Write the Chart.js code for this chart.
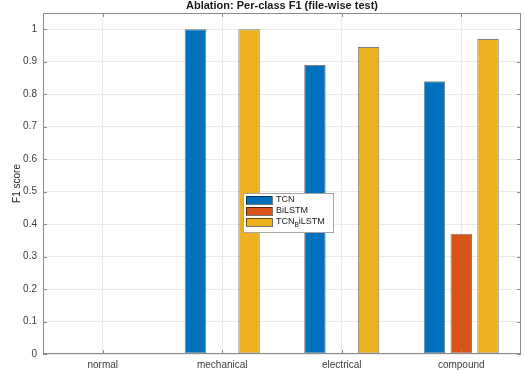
<!DOCTYPE html>
<html>
<head>
<meta charset="utf-8">
<script src="https://cdn.jsdelivr.net/npm/chart.js@4/dist/chart.umd.min.js"></script>
<style>
html,body{margin:0;padding:0;background:#fff;}
#wrap{position:relative;width:526px;height:374px;}
</style>
</head>
<body>
<div id="wrap"><canvas id="c" width="526" height="374"></canvas></div>
<script>
const categories = ['normal', 'mechanical', 'electrical', 'compound'];
const tcn = [0, 1.0, 0.89, 0.84];
const bilstm = [0, 0, 0, 0.37];
const tcnBilstm = [0, 1.0, 0.945, 0.97];
const yTickValues = [0, 0.1, 0.2, 0.3, 0.4, 0.5, 0.6, 0.7, 0.8, 0.9, 1];
const yTickLabels = ['0', '0.1', '0.2', '0.3', '0.4', '0.5', '0.6', '0.7', '0.8', '0.9', '1'];
const seriesNames = ['TCN', 'BiLSTM', 'TCN_BiLSTM'];
const titleText = 'Ablation: Per-class F1 (file-wise test)';
const yTitle = 'F1 score';

const colors = ['#0072BD', '#D95319', '#EDB120'];
const FONT = '"Liberation Sans", Arial, Helvetica, sans-serif';
const axisColor = '#8c8c8c';

const decor = {
  id: 'decor',
  afterDraw(chart) {
    const ctx = chart.ctx;
    const a = chart.chartArea;
    const ys = chart.scales.y, xs = chart.scales.x;
    ctx.save();
    // box
    ctx.strokeStyle = axisColor;
    ctx.lineWidth = 1;
    ctx.strokeRect(Math.round(a.left) + 0.5, Math.round(a.top) + 0.5, Math.round(a.right - a.left) - 1, Math.round(a.bottom - a.top) - 1);
    // ticks inside
    ctx.beginPath();
    yTickValues.forEach(v => {
      const y = Math.round(ys.getPixelForValue(v)) + 0.5;
      ctx.moveTo(a.left, y); ctx.lineTo(a.left + 4, y);
      ctx.moveTo(a.right, y); ctx.lineTo(a.right - 4, y);
    });
    categories.forEach((c, i) => {
      const x = Math.round(xs.getPixelForValue(i)) + 0.5;
      ctx.moveTo(x, a.bottom); ctx.lineTo(x, a.bottom - 4);
      ctx.moveTo(x, a.top); ctx.lineTo(x, a.top + 4);
    });
    ctx.stroke();
    // title
    ctx.fillStyle = '#1a1a1a';
    ctx.font = 'bold 11px ' + FONT;
    ctx.textAlign = 'center';
    ctx.textBaseline = 'middle';
    ctx.fillText(titleText, (a.left + a.right) / 2, 6);
    // legend
    const lx = a.left + 200, ly = a.top + 180, lw = 90, lh = 39;
    ctx.fillStyle = '#ffffff';
    ctx.fillRect(lx, ly, lw, lh);
    ctx.strokeStyle = '#a6a6a6';
    ctx.strokeRect(lx + 0.5, ly + 0.5, lw, lh);
    ctx.font = '9px ' + FONT;
    ctx.textAlign = 'left';
    ctx.textBaseline = 'middle';
    seriesNames.forEach((name, i) => {
      const cy = ly + 7 + i * 11;
      ctx.fillStyle = colors[i];
      ctx.fillRect(lx + 3, cy - 4, 26, 8);
      ctx.strokeStyle = 'rgba(0,0,0,0.55)';
      ctx.strokeRect(lx + 3.5, cy - 3.5, 26, 8);
      ctx.fillStyle = '#1a1a1a';
      const tx = lx + 33;
      const parts = name.split('_');
      if (parts.length > 1) {
        ctx.font = '9px ' + FONT;
        ctx.fillText(parts[0], tx, cy);
        let w = ctx.measureText(parts[0]).width;
        ctx.font = '6.5px ' + FONT;
        const sub = parts[1].charAt(0);
        ctx.fillText(sub, tx + w, cy + 3);
        w += ctx.measureText(sub).width;
        ctx.font = '9px ' + FONT;
        ctx.fillText(parts[1].slice(1), tx + w, cy);
      } else {
        ctx.fillText(name, tx, cy);
      }
    });
    ctx.restore();
  }
};

new Chart(document.getElementById('c'), {
  type: 'bar',
  data: {
    labels: categories,
    datasets: [
      { label: seriesNames[0], data: tcn, backgroundColor: colors[0] },
      { label: seriesNames[1], data: bilstm, backgroundColor: colors[1] },
      { label: seriesNames[2], data: tcnBilstm, backgroundColor: colors[2] }
    ].map(d => Object.assign(d, {
      borderColor: 'rgba(0,0,0,0.5)', borderWidth: 1, borderSkipped: false,
      barPercentage: 0.8, categoryPercentage: 0.673
    }))
  },
  options: {
    responsive: false,
    animation: false,
    devicePixelRatio: 1,
    layout: { padding: { top: 13, right: 5, left: 0, bottom: 0 } },
    plugins: { legend: { display: false }, title: { display: false }, tooltip: { enabled: false } },
    scales: {
      x: {
        offset: true,
        grid: { offset: false, color: '#ebebeb', drawTicks: false },
        border: { display: false },
        ticks: { color: '#404040', font: { family: FONT, size: 10 }, padding: 5, maxRotation: 0 },
        afterFit(s) { s.height = 20; }
      },
      y: {
        min: 0, max: 1.05,
        grid: { color: '#ebebeb', drawTicks: false },
        border: { display: false },
        afterBuildTicks(s) { s.ticks = yTickValues.map(v => ({ value: v })); },
        ticks: {
          color: '#404040', font: { family: FONT, size: 10 }, padding: 6,
          callback(v) { const i = yTickValues.findIndex(t => Math.abs(t - v) < 1e-9); return i >= 0 ? yTickLabels[i] : ''; }
        },
        title: { display: true, text: yTitle, color: '#262626', font: { family: FONT, size: 10 }, padding: { top: 11, bottom: 0 } },
        afterFit(s) { s.width = 43; }
      }
    }
  },
  plugins: [decor]
});
</script>
</body>
</html>
